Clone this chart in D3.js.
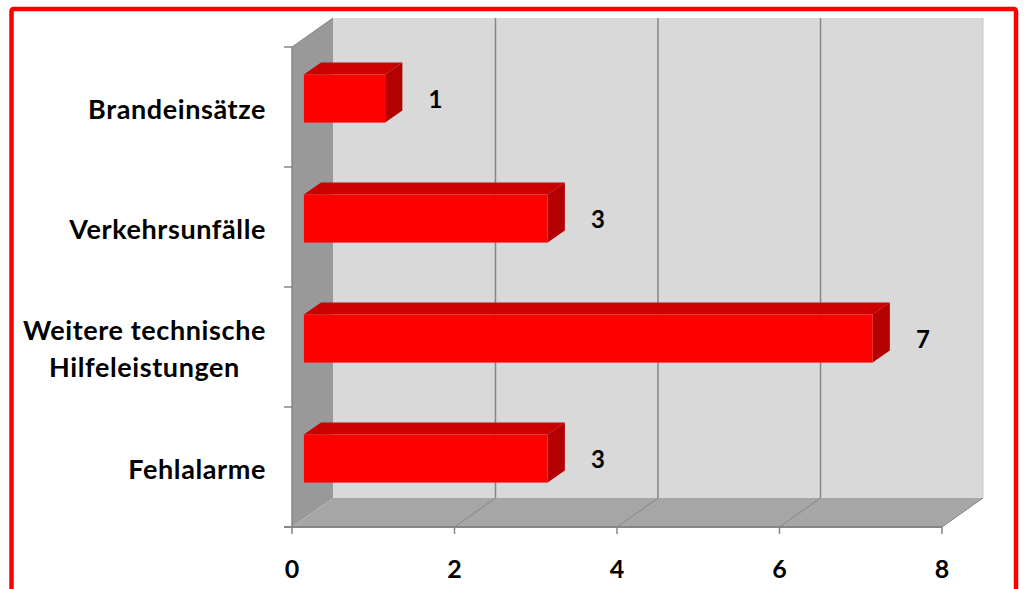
<!DOCTYPE html>
<html>
<head>
<meta charset="utf-8">
<script src="https://cdn.jsdelivr.net/npm/d3@7"></script>
<style>
  html, body { margin: 0; padding: 0; background: #ffffff; }
  svg { display: block; }
  text { font-family: Lato, "Open Sans", sans-serif; font-weight: bold; fill: #000; }
</style>
</head>
<body>
<svg id="chart" width="1024" height="589"></svg>
<script>
// ---- data ----
const categories = ["Brandeinsätze", "Verkehrsunfälle", "Weitere technische Hilfeleistungen", "Fehlalarme"];
const categoryLines = [["Brandeinsätze"], ["Verkehrsunfälle"], ["Weitere technische", "Hilfeleistungen"], ["Fehlalarme"]];
const values = [1, 3, 7, 3];
const xTicks = [0, 2, 4, 6, 8];

// ---- layout ----
const W = 1024, H = 589;
const plot = { left: 292, right: 942, top: 47, bottom: 527 };
const depth = { dx: 41, dy: -29 };       // full depth of the 3D box
const barFront = 0.29, barBack = 0.71;   // bar position in depth

const svg = d3.select("#chart");

const x = d3.scaleLinear().domain([0, 8]).range([plot.left, plot.right]);
const y = d3.scaleBand().domain(categories).range([plot.top, plot.bottom])
  .paddingInner(0.6).paddingOuter(0.3);

const wallBack = "#d9d9d9", wallSide = "#999999", floorCol = "#a6a6a6", lineCol = "#868686";

// back wall
svg.append("rect")
  .attr("x", x(0) + depth.dx).attr("y", plot.top + depth.dy)
  .attr("width", x(8) - x(0)).attr("height", plot.bottom - plot.top)
  .attr("fill", wallBack);

// left side wall
svg.append("polygon")
  .attr("points", [
    [x(0), plot.top], [x(0) + depth.dx, plot.top + depth.dy],
    [x(0) + depth.dx, plot.bottom + depth.dy], [x(0), plot.bottom]
  ].map(p => p.join(",")).join(" "))
  .attr("fill", wallSide);

// floor
svg.append("polygon")
  .attr("points", [
    [x(0), plot.bottom], [x(8), plot.bottom],
    [x(8) + depth.dx, plot.bottom + depth.dy], [x(0) + depth.dx, plot.bottom + depth.dy]
  ].map(p => p.join(",")).join(" "))
  .attr("fill", floorCol);

// gridlines on back wall + floor diagonals
xTicks.filter(t => t > 0 && t < 8).forEach(t => {
  svg.append("line")
    .attr("x1", x(t) + depth.dx).attr("x2", x(t) + depth.dx)
    .attr("y1", plot.top + depth.dy).attr("y2", plot.bottom + depth.dy)
    .attr("stroke", lineCol).attr("stroke-width", 1.5);
});
xTicks.filter(t => t > 0).forEach(t => {
  svg.append("line")
    .attr("x1", x(t)).attr("y1", plot.bottom)
    .attr("x2", x(t) + depth.dx).attr("y2", plot.bottom + depth.dy)
    .attr("stroke", lineCol).attr("stroke-width", 1);
});
// back wall right edge
svg.append("line")
  .attr("x1", x(8) + depth.dx).attr("x2", x(8) + depth.dx)
  .attr("y1", plot.top + depth.dy).attr("y2", plot.bottom + depth.dy)
  .attr("stroke", "#c8c8c8").attr("stroke-width", 1);

// axes lines
svg.append("line")
  .attr("x1", x(0)).attr("x2", x(0)).attr("y1", plot.top).attr("y2", plot.bottom)
  .attr("stroke", lineCol).attr("stroke-width", 1.5);
svg.append("line")
  .attr("x1", x(0)).attr("y1", plot.top)
  .attr("x2", x(0) + depth.dx).attr("y2", plot.top + depth.dy)
  .attr("stroke", lineCol).attr("stroke-width", 1);
svg.append("line")
  .attr("x1", x(0) - 8).attr("x2", x(8)).attr("y1", plot.bottom).attr("y2", plot.bottom)
  .attr("stroke", lineCol).attr("stroke-width", 2);

// category ticks (band boundaries)
const step = y.step();
d3.range(categories.length + 1).forEach(i => {
  const yy = plot.top + i * step;
  svg.append("line")
    .attr("x1", x(0) - 8).attr("x2", x(0)).attr("y1", yy).attr("y2", yy)
    .attr("stroke", lineCol).attr("stroke-width", 1.5);
});
// value ticks
xTicks.forEach(t => {
  svg.append("line")
    .attr("x1", x(t)).attr("x2", x(t)).attr("y1", plot.bottom).attr("y2", plot.bottom + 7)
    .attr("stroke", lineCol).attr("stroke-width", 1.5);
});

// bars
const fdx = depth.dx * barFront, fdy = depth.dy * barFront;
const bdx = depth.dx * (barBack - barFront), bdy = depth.dy * (barBack - barFront);
const bars = svg.append("g");
categories.forEach((c, i) => {
  const x0 = x(0) + fdx, x1 = x(values[i]) + fdx;
  const y0 = y(c) + fdy, h = y.bandwidth();
  // top face
  bars.append("polygon")
    .attr("points", [[x0, y0], [x0 + bdx, y0 + bdy], [x1 + bdx, y0 + bdy], [x1, y0]].map(p => p.join(",")).join(" "))
    .attr("fill", "#cc0000");
  // side face
  bars.append("polygon")
    .attr("points", [[x1, y0], [x1 + bdx, y0 + bdy], [x1 + bdx, y0 + bdy + h], [x1, y0 + h]].map(p => p.join(",")).join(" "))
    .attr("fill", "#b30000");
  // front face
  bars.append("rect")
    .attr("x", x0).attr("y", y0).attr("width", x1 - x0).attr("height", h)
    .attr("fill", "#ff0000");
  // value label
  bars.append("text")
    .attr("x", x1 + bdx + 33).attr("y", y0 + h / 2)
    .attr("text-anchor", "middle").attr("dominant-baseline", "central")
    .style("font-size", "24px")
    .text(values[i]);
});

// category labels
categories.forEach((c, i) => {
  const lines = categoryLines[i];
  const cy = y(c) + y.bandwidth() / 2 + 1;
  const lh = 37;
  const g = svg.append("g");
  const texts = lines.map((ln, j) => g.append("text")
    .attr("y", cy + (j - (lines.length - 1) / 2) * lh)
    .attr("dominant-baseline", "central")
    .style("font-size", "27px")
    .style("letter-spacing", "0.6px")
    .text(ln));
  const maxW = d3.max(texts, t => t.node().getComputedTextLength());
  const right = 266;
  texts.forEach(t => t.attr("x", right - maxW / 2).attr("text-anchor", "middle"));
});

// x tick labels
xTicks.forEach(t => {
  svg.append("text")
    .attr("x", x(t)).attr("y", 568)
    .attr("text-anchor", "middle").attr("dominant-baseline", "central")
    .style("font-size", "25px")
    .text(t);
});

// red frame
svg.append("rect")
  .attr("x", 11.5).attr("y", 9).attr("width", 1004.5).attr("height", 620)
  .attr("rx", 2)
  .attr("fill", "none").attr("stroke", "#ff0000").attr("stroke-width", 4.5);
</script>
</body>
</html>
